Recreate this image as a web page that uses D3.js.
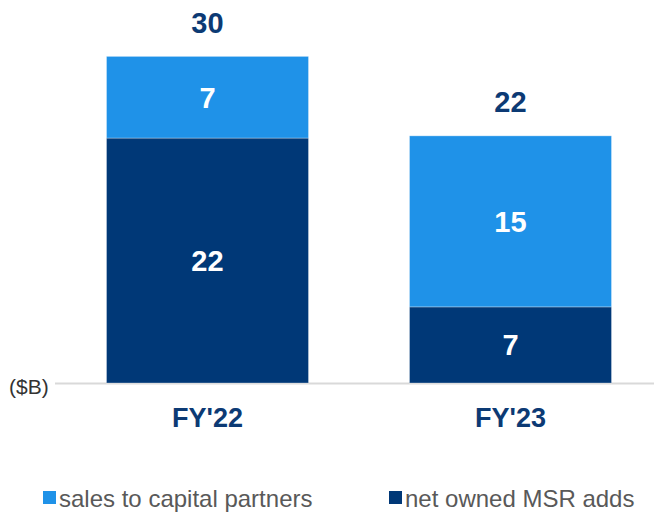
<!DOCTYPE html>
<html>
<head>
<meta charset="utf-8">
<script src="https://cdn.jsdelivr.net/npm/d3@7"></script>
<style>
  html, body { margin: 0; padding: 0; background: #ffffff; }
  svg { display: block; font-family: "Liberation Sans", Arial, sans-serif; }
</style>
</head>
<body>
<svg id="chart" width="654" height="515"></svg>
<script>
// data ($B)
var years = ["FY'22", "FY'23"];
var netOwned = [22.2, 6.9];
var salesPartners = [7.4, 15.5];
var seriesNames = ["sales to capital partners", "net owned MSR adds"];

var lightBlue = "#1f92e8", navy = "#003877", labelNavy = "#0c3a74";

var svg = d3.select("#chart");
var baseY = 383;

var x = d3.scaleBand().domain(years).range([55, 663]).paddingInner(1 / 3).paddingOuter(0.17);
var y = d3.scaleLinear().domain([0, 30]).range([baseY, 52]);

var rows = years.map(function (yr, i) {
	return { year: yr, net: netOwned[i], sales: salesPartners[i], total: netOwned[i] + salesPartners[i] };
});

var stack = d3.stack().keys(["net", "sales"])(rows);
var colors = { net: navy, sales: lightBlue };

// axis line
svg.append("line").attr("x1", 55).attr("x2", 654).attr("y1", baseY + 0.5).attr("y2", baseY + 0.5)
	.attr("stroke", "#d9d9d9").attr("stroke-width", 2);

var layers = svg.selectAll("g.layer").data(stack).enter().append("g").attr("class", "layer");
layers.selectAll("rect").data(function (d) { return d.map(function (p) { p.key = d.key; return p; }); })
	.enter().append("rect")
	.attr("x", function (d) { return x(d.data.year); })
	.attr("width", x.bandwidth())
	.attr("y", function (d) { return y(d[1]); })
	.attr("height", function (d) { return y(d[0]) - y(d[1]); })
	.attr("fill", function (d) { return colors[d.key]; })
	.attr("stroke", "#ffffff").attr("stroke-opacity", 0.3).attr("stroke-width", 1);

// segment labels
layers.selectAll("text").data(function (d) { return d.map(function (p) { p.key = d.key; return p; }); })
	.enter().append("text")
	.attr("x", function (d) { return x(d.data.year) + x.bandwidth() / 2; })
	.attr("y", function (d) { return (y(d[0]) + y(d[1])) / 2; })
	.attr("dy", "0.36em")
	.attr("text-anchor", "middle")
	.attr("fill", "#ffffff").attr("font-weight", "bold").attr("font-size", 29)
	.text(function (d) { return Math.round(d[1] - d[0]); });

// totals
svg.selectAll("text.total").data(rows).enter().append("text").attr("class", "total")
	.attr("x", function (d) { return x(d.year) + x.bandwidth() / 2; })
	.attr("y", function (d) { return y(d.total) - 34; })
	.attr("dy", "0.36em")
	.attr("text-anchor", "middle")
	.attr("fill", labelNavy).attr("font-weight", "bold").attr("font-size", 29)
	.text(function (d) { return Math.round(d.total); });

// category labels
svg.selectAll("text.cat").data(years).enter().append("text").attr("class", "cat")
	.attr("x", function (d) { return x(d) + x.bandwidth() / 2; })
	.attr("y", 417).attr("dy", "0.36em")
	.attr("text-anchor", "middle")
	.attr("fill", labelNavy).attr("font-weight", "bold").attr("font-size", 27)
	.text(function (d) { return d; });

// unit
svg.append("text").attr("x", 9).attr("y", 386).attr("dy", "0.36em")
	.attr("fill", "#333333").attr("font-size", 21).text("($B)");

// legend
var legendItems = [
	{ name: seriesNames[0], color: lightBlue, x: 43 },
	{ name: seriesNames[1], color: navy, x: 389 }
];
var lg = svg.selectAll("g.legend").data(legendItems).enter().append("g").attr("class", "legend")
	.attr("transform", function (d) { return "translate(" + d.x + ",498)"; });
lg.append("rect").attr("x", 0).attr("y", -7).attr("width", 13).attr("height", 13)
	.attr("fill", function (d) { return d.color; });
lg.append("text").attr("x", 16).attr("y", 0).attr("dy", "0.36em")
	.attr("fill", "#595959").attr("font-size", 24)
	.text(function (d) { return d.name; });
</script>
</body>
</html>
